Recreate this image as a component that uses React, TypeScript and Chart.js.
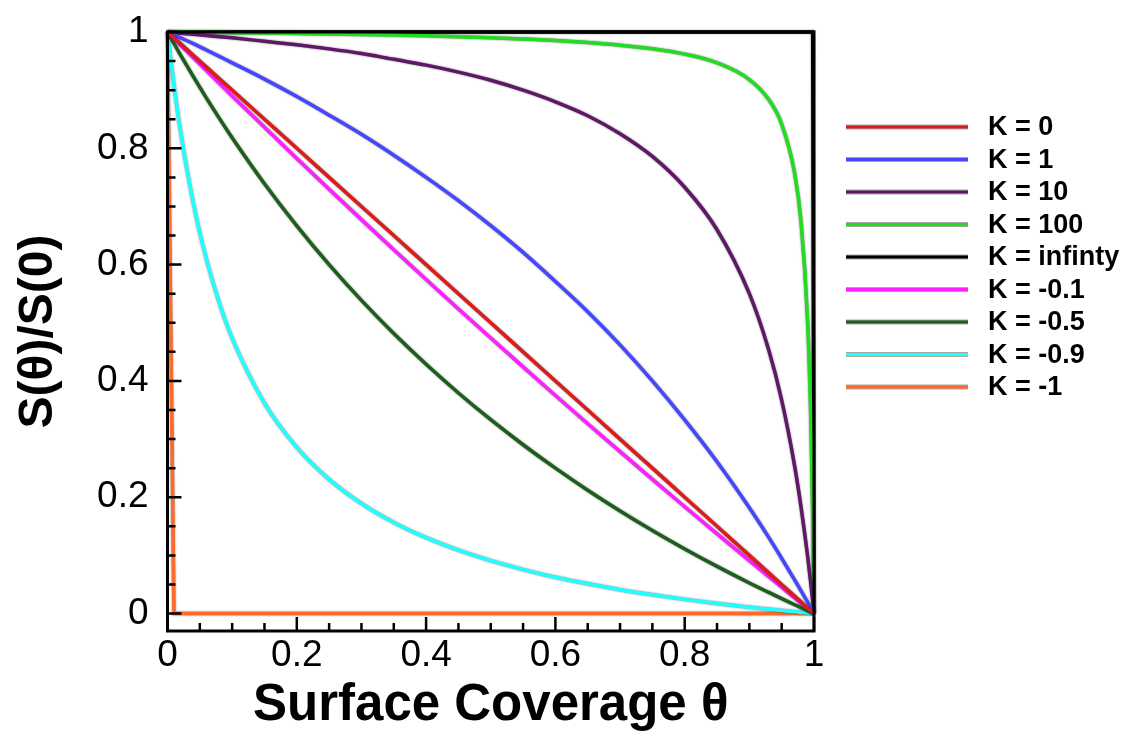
import React, { useEffect, useRef } from "react";
import { Chart, registerables } from "chart.js";

Chart.register(...registerables);

const FONT = "'Liberation Sans', Arial, Helvetica, sans-serif";

// Surface coverage θ sample positions
const theta = [0, 0.01, 0.02, 0.04, 0.06, 0.08, 0.1, 0.15, 0.2, 0.25, 0.3, 0.35, 0.4, 0.45, 0.5, 0.55, 0.6, 0.65, 0.7, 0.75, 0.8, 0.85, 0.9, 0.93, 0.95, 0.97, 0.98, 0.99, 0.995, 0.998, 1];

// S(θ)/S(0)
const kZero = [1, 0.99, 0.98, 0.96, 0.94, 0.92, 0.9, 0.85, 0.8, 0.75, 0.7, 0.65, 0.6, 0.55, 0.5, 0.45, 0.4, 0.35, 0.3, 0.25, 0.2, 0.15, 0.1, 0.07, 0.05, 0.03, 0.02, 0.01, 0.005, 0.002, 0];
const kOne = [1, 0.995, 0.99, 0.98, 0.969, 0.958, 0.947, 0.919, 0.889, 0.857, 0.824, 0.788, 0.75, 0.71, 0.667, 0.621, 0.571, 0.519, 0.462, 0.4, 0.333, 0.261, 0.182, 0.131, 0.095, 0.058, 0.039, 0.02, 0.01, 0.004, 0];
const kTen = [1, 0.999, 0.998, 0.996, 0.994, 0.992, 0.99, 0.984, 0.978, 0.971, 0.963, 0.953, 0.943, 0.931, 0.917, 0.9, 0.88, 0.856, 0.825, 0.786, 0.733, 0.66, 0.55, 0.453, 0.367, 0.254, 0.183, 0.1, 0.052, 0.022, 0];
const kHundred = [1, 1, 1, 0.9996, 0.9994, 0.9991, 0.9989, 0.9983, 0.9975, 0.9967, 0.9958, 0.9947, 0.9934, 0.992, 0.9902, 0.988, 0.9854, 0.9819, 0.9774, 0.9712, 0.9619, 0.9469, 0.9182, 0.8838, 0.8417, 0.7575, 0.6733, 0.505, 0.3367, 0.168, 0];
const kInfinity = [1, 1, 1, 1, 1, 1, 1, 1, 1, 1, 1, 1, 1, 1, 1, 1, 1, 1, 1, 1, 1, 1, 1, 1, 1, 1, 1, 1, 1, 1, 0];
const kMinus01 = [1, 0.9889, 0.9778, 0.9558, 0.9338, 0.9119, 0.8901, 0.8361, 0.7826, 0.7297, 0.6774, 0.6257, 0.5745, 0.5238, 0.4737, 0.4241, 0.375, 0.3264, 0.2784, 0.2308, 0.1837, 0.1371, 0.0909, 0.0634, 0.0452, 0.0271, 0.018, 0.009, 0.0045, 0.0018, 0];
const kMinus05 = [1, 0.9802, 0.9608, 0.9231, 0.8868, 0.8519, 0.8182, 0.7391, 0.6667, 0.6, 0.5385, 0.4815, 0.4286, 0.3793, 0.3333, 0.2903, 0.25, 0.2121, 0.1765, 0.1429, 0.1111, 0.0811, 0.0526, 0.0363, 0.0256, 0.0152, 0.0101, 0.005, 0.0025, 0.001, 0];
const kMinus09 = [1, 0.9083, 0.8305, 0.7059, 0.6104, 0.5349, 0.4737, 0.3617, 0.2857, 0.2308, 0.1892, 0.1566, 0.1304, 0.1089, 0.0909, 0.0756, 0.0625, 0.0511, 0.0411, 0.0323, 0.0244, 0.0173, 0.011, 0.0075, 0.0052, 0.0031, 0.002, 0.001, 0.0005, 0.0002, 0];
const kMinus1 = [1, 0, 0, 0, 0, 0, 0, 0, 0, 0, 0, 0, 0, 0, 0, 0, 0, 0, 0, 0, 0, 0, 0, 0, 0, 0, 0, 0, 0, 0, 0];

const seriesLabels = ["K = 0", "K = 1", "K = 10", "K = 100", "K = infinty", "K = -0.1", "K = -0.5", "K = -0.9", "K = -1"];
const seriesValues = [kZero, kOne, kTen, kHundred, kInfinity, kMinus01, kMinus05, kMinus09, kMinus1];
const seriesColors = ["#dc1c1c", "#4646ff", "#5e1866", "#22dc22", "#000000", "#ff1eff", "#1c5e1c", "#1effff", "#ff6a2a"];

const majorTicks = [0, 0.2, 0.4, 0.6, 0.8, 1];
const minorTicks = [0.05, 0.1, 0.15, 0.25, 0.3, 0.35, 0.45, 0.5, 0.55, 0.65, 0.7, 0.75, 0.85, 0.9, 0.95];

const outlinePlugin = {
  id: "outline",
  beforeDatasetDraw(chart: any) {
    const ctx = chart.ctx;
    ctx.save();
    ctx.shadowColor = "rgba(0,0,0,0.55)";
    ctx.shadowBlur = 2;
    ctx.shadowOffsetX = 0;
    ctx.shadowOffsetY = 0;
  },
  afterDatasetDraw(chart: any) {
    chart.ctx.restore();
  },
};

const framePlugin = {
  id: "frame",
  afterDatasetsDraw(chart: any) {
    const { ctx, chartArea: a, scales } = chart;
    const xs = scales.x;
    const ys = scales.y;
    ctx.save();
    ctx.strokeStyle = "#000";
    ctx.lineWidth = 3;
    ctx.strokeRect(a.left, a.top, a.right - a.left, a.bottom - a.top);
    ctx.lineWidth = 2.5;
    ctx.beginPath();
    const all = majorTicks.map((v) => [v, 14]).concat(minorTicks.map((v) => [v, 8]));
    all.forEach(([v, len]) => {
      const px = xs.getPixelForValue(v);
      ctx.moveTo(px, a.bottom);
      ctx.lineTo(px, a.bottom - len);
      const py = ys.getPixelForValue(v);
      ctx.moveTo(a.left, py);
      ctx.lineTo(a.left + len, py);
    });
    ctx.stroke();
    ctx.restore();
  },
};

const legendPlugin = {
  id: "customLegend",
  afterDraw(chart: any) {
    const { ctx, chartArea: a } = chart;
    const x0 = a.right + 32;
    const x1 = a.right + 154;
    const tx = a.right + 174;
    const y0 = 127;
    const step = 32.5;
    ctx.save();
    ctx.font = `bold 27px ${FONT}`;
    ctx.textBaseline = "middle";
    ctx.textAlign = "left";
    chart.data.datasets.forEach((ds: any, i: number) => {
      const yy = y0 + i * step;
      ctx.lineCap = "butt";
      ctx.strokeStyle = "rgba(0,0,0,0.35)";
      ctx.lineWidth = 5;
      ctx.beginPath();
      ctx.moveTo(x0, yy);
      ctx.lineTo(x1, yy);
      ctx.stroke();
      ctx.strokeStyle = ds.borderColor;
      ctx.lineWidth = 3;
      ctx.beginPath();
      ctx.moveTo(x0, yy);
      ctx.lineTo(x1, yy);
      ctx.stroke();
      ctx.fillStyle = "#000";
      ctx.fillText(ds.label, tx, yy + 1);
    });
    ctx.restore();
  },
};

export default function App() {
  const ref = useRef<HTMLCanvasElement | null>(null);

  useEffect(() => {
    if (!ref.current) return;
    const datasets = seriesLabels.map((label, i) => ({
      label,
      data: theta.map((t, j) => ({ x: t, y: seriesValues[i][j] })),
      borderColor: seriesColors[i],
      backgroundColor: seriesColors[i],
      borderWidth: 3.5,
      pointRadius: 0,
      fill: false,
      clip: false as any,
      cubicInterpolationMode: (i === 4 || i === 8 ? "default" : "monotone") as any,
      tension: 0,
    }));

    const chart = new Chart(ref.current, {
      type: "line",
      data: { datasets },
      plugins: [outlinePlugin, framePlugin, legendPlugin],
      options: {
        animation: false,
        responsive: false,
        maintainAspectRatio: false,
        devicePixelRatio: 1,
        layout: { padding: { left: 0, top: 32, right: 307, bottom: 0 } },
        plugins: { legend: { display: false }, tooltip: { enabled: false } },
        scales: {
          x: {
            type: "linear",
            min: 0,
            max: 1,
            afterBuildTicks: (s: any) => {
              s.ticks = majorTicks.map((v) => ({ value: v }));
            },
            afterFit: (s: any) => {
              s.height = 106;
              s.paddingLeft = 0;
              s.paddingRight = 0;
            },
            grid: { display: false, drawTicks: false },
            border: { display: false },
            ticks: {
              color: "#000",
              font: { family: FONT, size: 37 },
              padding: 3,
              maxRotation: 0,
              autoSkip: false,
              callback: (v: any) => String(v),
            },
            title: {
              display: true,
              text: "Surface Coverage θ",
              color: "#000",
              font: { family: FONT, size: 51, weight: "bold" },
              padding: { top: 0, bottom: 0 },
            },
          },
          y: {
            type: "linear",
            min: -0.03,
            max: 1,
            afterBuildTicks: (s: any) => {
              s.ticks = majorTicks.map((v) => ({ value: v }));
            },
            afterFit: (s: any) => {
              s.width = 167.5;
              s.paddingTop = 0;
              s.paddingBottom = 0;
            },
            grid: { display: false, drawTicks: false },
            border: { display: false },
            ticks: {
              color: "#000",
              font: { family: FONT, size: 37 },
              padding: 19,
              autoSkip: false,
              callback: (v: any) => String(v),
            },
            title: {
              display: true,
              text: "S(θ)/S(0)",
              color: "#000",
              font: { family: FONT, size: 48, weight: "bold" },
              padding: { top: 10, bottom: 0 },
            },
          },
        },
      },
    });
    return () => chart.destroy();
  }, []);

  return (
    <div style={{ position: "absolute", left: 0, top: 0, width: 1121, height: 737, background: "#fff" }}>
      <canvas ref={ref} width={1121} height={737} style={{ display: "block", width: 1121, height: 737 }} />
    </div>
  );
}
